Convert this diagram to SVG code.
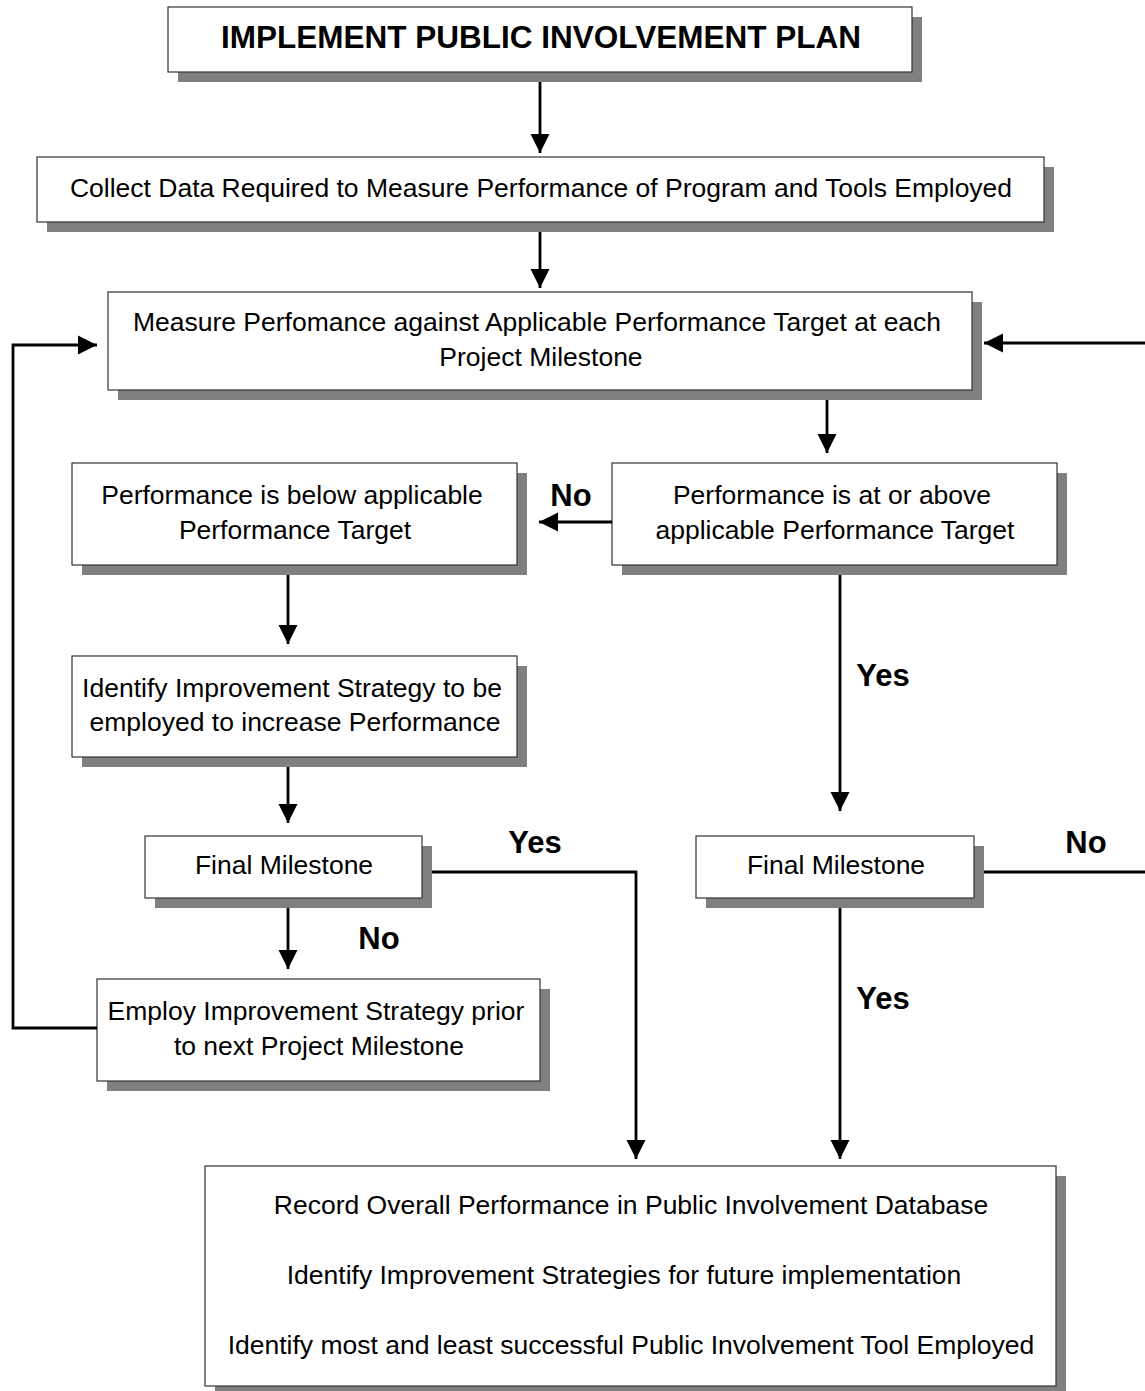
<svg xmlns="http://www.w3.org/2000/svg" width="1145" height="1391" viewBox="0 0 1145 1391">
<style>
.box{fill:#fff;stroke:#333;stroke-width:1.2}
.sh{fill:#808080}
.t{font-family:"Liberation Sans",Arial,sans-serif;font-size:26.5px;fill:#000;text-anchor:middle}
.title{font-family:"Liberation Sans",Arial,sans-serif;font-size:31.5px;font-weight:bold;fill:#000;text-anchor:middle}
.lbl{font-family:"Liberation Sans",Arial,sans-serif;font-size:31px;font-weight:bold;fill:#000;text-anchor:middle}
.ln{fill:none;stroke:#000;stroke-width:2.8}
</style>
<defs>
<marker id="ah" viewBox="0 0 10 10" refX="10" refY="5" markerWidth="6.8" markerHeight="6.8" markerUnits="strokeWidth" orient="auto">
<path d="M0,0 L10,5 L0,10 Z" fill="#000"/>
</marker>
</defs>
<rect width="1145" height="1391" fill="#fff"/>
<g id="n1"><rect class="sh" x="178" y="17" width="744" height="65"/><rect class="box" x="168" y="7" width="744" height="65"/><text class="title" x="541" y="48">IMPLEMENT PUBLIC INVOLVEMENT PLAN</text></g>
<g id="n2"><rect class="sh" x="47" y="167" width="1007" height="65"/><rect class="box" x="37" y="157" width="1007" height="65"/><text class="t" x="541" y="197">Collect Data Required to Measure Performance of Program and Tools Employed</text></g>
<g id="n3"><rect class="sh" x="118" y="302" width="864" height="98"/><rect class="box" x="108" y="292" width="864" height="98"/><text class="t" x="537" y="331">Measure Perfomance against Applicable Performance Target at each</text><text class="t" x="541" y="366">Project Milestone</text></g>
<g id="n4"><rect class="sh" x="82" y="473" width="445" height="102"/><rect class="box" x="72" y="463" width="445" height="102"/><text class="t" x="292" y="504">Performance is below applicable</text><text class="t" x="295" y="539">Performance Target</text></g>
<g id="n5"><rect class="sh" x="622" y="473" width="445" height="102"/><rect class="box" x="612" y="463" width="445" height="102"/><text class="t" x="832" y="504">Performance is at or above</text><text class="t" x="835" y="539">applicable Performance Target</text></g>
<g id="n6"><rect class="sh" x="82" y="666" width="445" height="101"/><rect class="box" x="72" y="656" width="445" height="101"/><text class="t" x="292" y="697">Identify Improvement Strategy to be</text><text class="t" x="295" y="731">employed to increase Performance</text></g>
<g id="n7"><rect class="sh" x="155" y="846" width="277" height="62"/><rect class="box" x="145" y="836" width="277" height="62"/><text class="t" x="284" y="874">Final Milestone</text></g>
<g id="n8"><rect class="sh" x="706" y="846" width="278" height="62"/><rect class="box" x="696" y="836" width="278" height="62"/><text class="t" x="836" y="874">Final Milestone</text></g>
<g id="n9"><rect class="sh" x="107" y="989" width="443" height="102"/><rect class="box" x="97" y="979" width="443" height="102"/><text class="t" x="316" y="1020">Employ Improvement Strategy prior</text><text class="t" x="319" y="1055">to next Project Milestone</text></g>
<g id="n10"><rect class="sh" x="215" y="1176" width="851" height="220"/><rect class="box" x="205" y="1166" width="851" height="220"/><text class="t" x="631" y="1214">Record Overall Performance in Public Involvement Database</text><text class="t" x="624" y="1284">Identify Improvement Strategies for future implementation</text><text class="t" x="631" y="1354">Identify most and least successful Public Involvement Tool Employed</text></g>
<g id="connectors">
<path class="ln" d="M540,82 V153" marker-end="url(#ah)"/>
<path class="ln" d="M540,232 V288" marker-end="url(#ah)"/>
<path class="ln" d="M827,400 V453" marker-end="url(#ah)"/>
<path class="ln" d="M612,522 H539" marker-end="url(#ah)"/>
<path class="ln" d="M288,575 V644" marker-end="url(#ah)"/>
<path class="ln" d="M288,767 V823" marker-end="url(#ah)"/>
<path class="ln" d="M288,908 V969" marker-end="url(#ah)"/>
<path class="ln" d="M432,872 H636 V1159" marker-end="url(#ah)"/>
<path class="ln" d="M97,1028 H13 V345 H97" marker-end="url(#ah)"/>
<path class="ln" d="M840,575 V811" marker-end="url(#ah)"/>
<path class="ln" d="M984,872 H1147 V343 H984" marker-end="url(#ah)"/>
<path class="ln" d="M840,908 V1159" marker-end="url(#ah)"/>
<text class="lbl" x="571" y="506">No</text>
<text class="lbl" x="535" y="853">Yes</text>
<text class="lbl" x="379" y="949">No</text>
<text class="lbl" x="1086" y="853">No</text>
<text class="lbl" x="883" y="686">Yes</text>
<text class="lbl" x="883" y="1009">Yes</text>
</g>
</svg>
